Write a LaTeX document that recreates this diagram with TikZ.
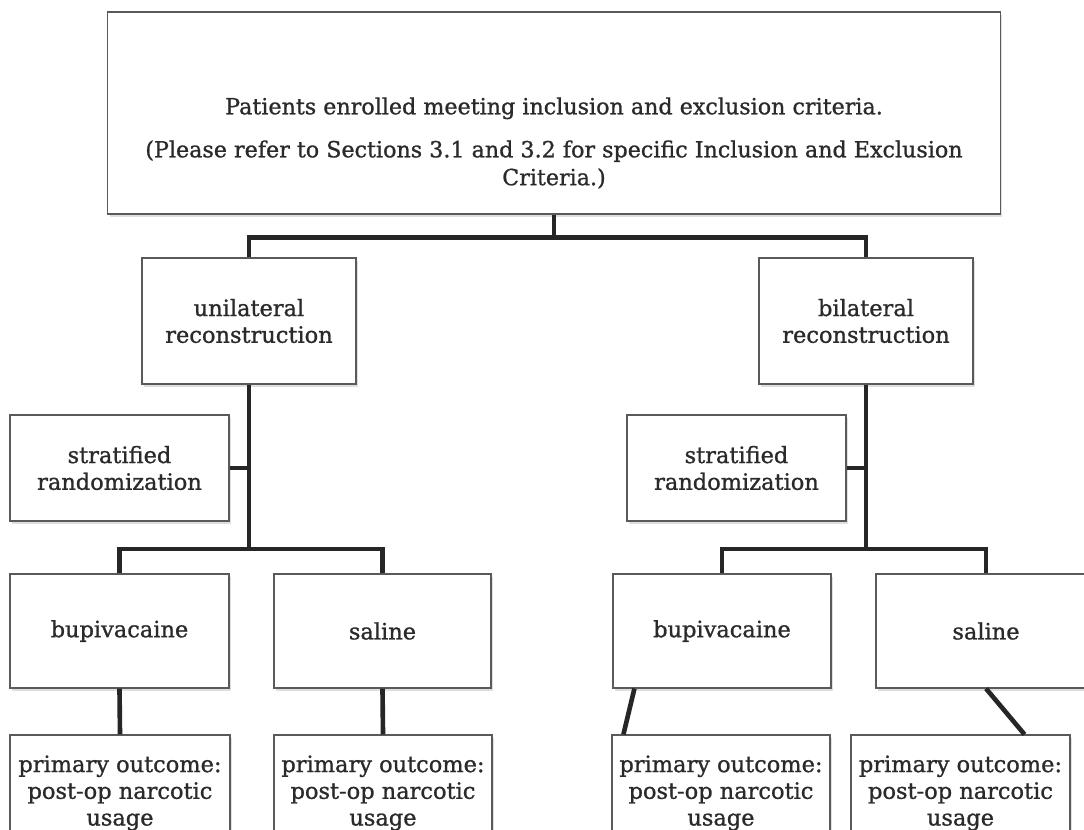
\documentclass[tikz,border=0pt]{standalone}
\usepackage{fontspec}
\setmainfont{DejaVu Serif}
\newfontfamily\boxfont[FakeBold=1]{DejaVu Serif}
\usepackage{tikz}
\usetikzlibrary{positioning,shadows}

\definecolor{boxline}{HTML}{5A5A5A}
\definecolor{linkline}{HTML}{262626}
\definecolor{boxtext}{HTML}{2A2A2A}

\tikzset{
    stepbox/.style={draw=boxline, line width=0.8pt, fill=white, align=center, inner sep=2pt, text=boxtext,
        drop shadow={opacity=0.25, shadow xshift=1.3pt, shadow yshift=-1.8pt}},
    widetext/.style={font=\boxfont\fontsize{16}{19}\selectfont},
    toptext/.style={font=\boxfont\fontsize{15.8}{19.8}\selectfont},
    link/.style={draw=linkline, line width=3.3pt}
}

\begin{document}
\begin{tikzpicture}[x=0.025cm, y=-0.025cm]
    \useasboundingbox (0,0) rectangle (1084,829);
    \clip (0,0) rectangle (1084,829);

    % Enrolment (Top)
    \node[stepbox, minimum width=22.3cm, minimum height=5.05cm] (enrol) at (554,113) {};
    \node[toptext, text=boxtext, align=center] (enroltext) at (554,143) {Patients enrolled meeting inclusion and exclusion criteria.\\[0.38cm](Please refer to Sections 3.1 and 3.2 for specific Inclusion and Exclusion\\Criteria.)};

    % Unilateral Arm (Left)
    \node[stepbox, widetext, minimum width=5.35cm, minimum height=3.15cm] (uni) at (249,321) {unilateral\\reconstruction};
    \node[stepbox, widetext, minimum width=5.475cm, minimum height=2.65cm] (stratL) at (119.5,468) {stratified\\randomization};
    \node[stepbox, widetext, minimum width=5.475cm, minimum height=2.85cm] (bupiL) at (119.5,631) {bupivacaine};
    \node[stepbox, widetext, minimum width=5.425cm, minimum height=2.85cm] (salL) at (382.5,631) {saline};
    \node[stepbox, widetext, minimum width=5.5cm, minimum height=2.9cm] (outL1) at (120,793) {primary outcome:\\post-op narcotic\\usage};
    \node[stepbox, widetext, minimum width=5.45cm, minimum height=2.9cm] (outL2) at (383,793) {primary outcome:\\post-op narcotic\\usage};

    % Bilateral Arm (Right)
    \node[stepbox, widetext, minimum width=5.35cm, minimum height=3.15cm] (bil) at (866,321) {bilateral\\reconstruction};
    \node[stepbox, widetext, minimum width=5.475cm, minimum height=2.65cm] (stratR) at (736.5,468) {stratified\\randomization};
    \node[stepbox, widetext, minimum width=5.45cm, minimum height=2.85cm] (bupiR) at (722,631) {bupivacaine};
    \node[stepbox, widetext, minimum width=5.5cm, minimum height=2.85cm] (salR) at (986,631) {saline};
    \node[stepbox, widetext, minimum width=5.45cm, minimum height=2.9cm] (outR1) at (721,793) {primary outcome:\\post-op narcotic\\usage};
    \node[stepbox, widetext, minimum width=5.475cm, minimum height=2.9cm] (outR2) at (960.5,793) {primary outcome:\\post-op narcotic\\usage};

    % Connectors
    \draw[link] (enrol.south) -- ++(0,23) coordinate (split) -| (uni.north);
    \draw[link] (split) -| (bil.north);
    \draw[link] (uni.south) -- (uni.south |- 0,549) coordinate (splitL) -| (bupiL.north);
    \draw[link] (splitL) -| (salL.north);
    \draw[link] (stratL.east) -- (stratL.east -| uni.south);
    \draw[link] (bupiL.south) -- (outL1.north);
    \draw[link] (salL.south) -- (outL2.north);
    \draw[link] (bil.south) -- (bil.south |- 0,549) coordinate (splitR) -| (bupiR.north);
    \draw[link] (splitR) -| (salR.north);
    \draw[link] (stratR.east) -- (stratR.east -| bil.south);
    \draw[link] ([xshift=0.55cm]bupiR.south west) -- ([xshift=0.3cm]outR1.north west);
    \draw[link] (salR.south) -- ([xshift=1.6cm]outR2.north);
\end{tikzpicture}
\end{document}
